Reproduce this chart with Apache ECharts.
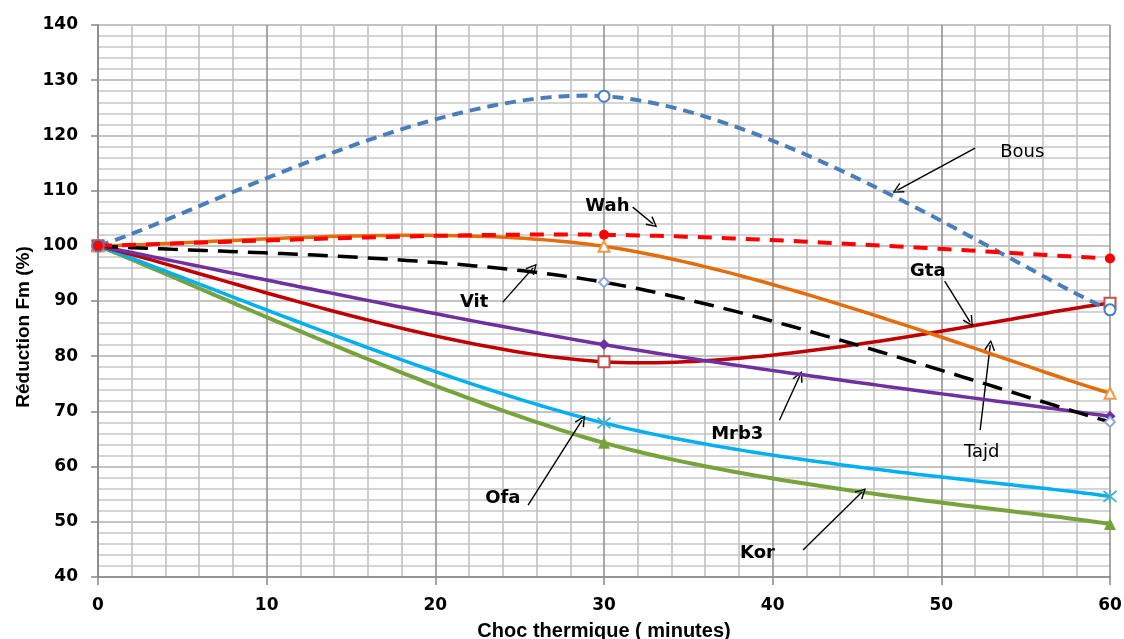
<!DOCTYPE html>
<html>
<head>
<meta charset="utf-8">
<script src="https://cdn.jsdelivr.net/npm/echarts@6/dist/echarts.min.js"></script>
<style>
  html, body { margin: 0; padding: 0; background: #fff; }
  #chart { width: 1124px; height: 639px; }
</style>
</head>
<body>
<div id="chart"></div>
<script>
// Thermal shock duration (minutes) and Fm reduction (%) per material
const minutes = [0, 30, 60];
const bous = [100, 127.1, 88.4];
const wah  = [100, 102.0, 97.7];
const tajd = [100, 99.9, 73.3];
const vit  = [100, 93.4, 68.1];
const mrb3 = [100, 82.1, 69.1];
const gta  = [100, 79.0, 89.6];
const ofa  = [100, 67.9, 54.6];
const kor  = [100, 64.3, 49.6];

// Callout labels: text, label anchor, arrow start, arrow tip (axis units)
const calloutNames = ['Bous', 'Wah', 'Gta', 'Vit', 'Mrb3', 'Tajd', 'Ofa', 'Kor'];
const calloutText  = [[54.8, 117.0], [30.2, 107.2], [49.2, 95.3], [22.3, 89.8], [37.9, 65.9], [52.4, 62.5], [24.0, 54.3], [39.1, 44.3]];
const arrowFrom    = [[52.0, 117.7], [31.7, 107.0], [50.2, 93.6], [24.0, 89.8], [40.4, 68.4], [52.3, 66.6], [25.5, 53.0], [41.8, 44.9]];
const arrowTo      = [[47.4, 110.1], [32.9, 104.0], [51.7, 86.2], [25.8, 96.0], [41.6, 76.4], [52.9, 82.0], [28.7, 68.4], [45.3, 55.4]];
const boldCallout  = [false, true, true, true, true, false, true, true];

const SANS = '"DejaVu Sans", sans-serif';
const TITLE = '"Liberation Sans", Arial, sans-serif';
const pairs = (vals) => minutes.map((m, i) => [m, vals[i]]);

const arrowHead = 'path://M5,0 L10,10 L8.8,10.6 L5,2.6 L1.2,10.6 L0,10 Z';
const asterisk = 'path://M0,0 L10,10 M10,0 L0,10 M5,-1 L5,11';

// Cardinal spline through the pixel points (tension 1/6), sampled for a polyline
function splinePoints(px) {
  const out = [px[0]];
  for (let i = 0; i < px.length - 1; i++) {
    const p0 = px[i - 1] || px[i], p1 = px[i], p2 = px[i + 1], p3 = px[i + 2] || px[i + 1];
    const c1 = [p1[0] + (p2[0] - p0[0]) / 6, p1[1] + (p2[1] - p0[1]) / 6];
    const c2 = [p2[0] - (p3[0] - p1[0]) / 6, p2[1] - (p3[1] - p1[1]) / 6];
    const steps = 60;
    for (let s = 1; s <= steps; s++) {
      const t = s / steps, u = 1 - t;
      const a = u * u * u, b = 3 * u * u * t, c = 3 * u * t * t, d = t * t * t;
      out.push([
        a * p1[0] + b * c1[0] + c * c2[0] + d * p2[0],
        a * p1[1] + b * c1[1] + c * c2[1] + d * p2[1]
      ]);
    }
  }
  return out;
}

function curve(name, vals, o) {
  return {
    name: name,
    type: 'custom',
    coordinateSystem: 'cartesian2d',
    data: pairs(vals),
    silent: true,
    clip: false,
    z: o.z,
    animation: false,
    renderItem: function (params, api) {
      if (params.dataIndex !== 0) return null;
      const px = minutes.map((m, i) => api.coord([m, vals[i]]));
      return {
        type: 'polyline',
        shape: { points: splinePoints(px) },
        style: {
          fill: null,
          stroke: o.line,
          lineWidth: o.width || 3.5,
          lineDash: o.dash || null,
          lineCap: 'butt',
          lineJoin: 'round'
        }
      };
    }
  };
}

function markers(name, vals, o) {
  return {
    name: name + ' points',
    type: 'scatter',
    data: pairs(vals),
    symbol: o.symbol,
    symbolSize: o.size || 10,
    itemStyle: Object.assign({ opacity: 1 }, o.item),
    silent: true,
    z: o.z + 10,
    animation: false
  };
}

const specs = [
  ['Kor',  kor,  { line: '#77a33c', width: 4,   z: 2, symbol: 'triangle', size: 12, item: { color: '#77a33c' } }],
  ['Ofa',  ofa,  { line: '#00b0f0', width: 3.5, z: 3, symbol: asterisk, size: 13, item: { color: 'none', borderColor: '#4bacc6', borderWidth: 1.8 } }],
  ['Gta',  gta,  { line: '#c00000', width: 3.5, z: 4, symbol: 'emptyRect', size: 11, item: { color: '#c0504d', borderWidth: 1.5 } }],
  ['Mrb3', mrb3, { line: '#7030a0', width: 3.5, z: 5, symbol: 'diamond', size: 11, item: { color: '#7030a0' } }],
  ['Tajd', tajd, { line: '#e46c0a', width: 3.5, z: 6, symbol: 'emptyTriangle', size: 11, item: { color: '#f79646', borderWidth: 1.5 } }],
  ['Vit',  vit,  { line: '#000000', width: 3.5, z: 7, dash: [20, 10], symbol: 'emptyDiamond', size: 10, item: { color: '#8eaadb', borderWidth: 1.5 } }],
  ['Bous', bous, { line: '#4a7ebb', width: 4,   z: 8, dash: [11, 7], symbol: 'emptyCircle', size: 11, item: { color: '#4a7ebb', borderWidth: 1.5 } }],
  ['Wah',  wah,  { line: '#ff0000', width: 4,   z: 9, dash: [14, 10], symbol: 'circle', size: 10, item: { color: '#ff0000' } }]
];

const series = [];
specs.forEach(([n, v, o]) => { series.push(curve(n, v, o)); });
specs.forEach(([n, v, o]) => { series.push(markers(n, v, o)); });

series.push({
  name: 'callouts',
  type: 'scatter',
  data: calloutNames.map((n, i) => ({
    value: calloutText[i],
    name: n,
    label: { fontWeight: boldCallout[i] ? 'bold' : 'normal' }
  })),
  symbolSize: 0,
  silent: true,
  z: 30,
  itemStyle: { opacity: 1 },
  label: {
    show: true,
    position: 'inside',
    formatter: '{b}',
    color: '#000',
    opacity: 1,
    fontSize: 18,
    fontFamily: SANS
  },
  markLine: {
    silent: true,
    symbol: ['none', arrowHead],
    symbolSize: [11, 11],
    animation: false,
    label: { show: false },
    lineStyle: { color: '#000', width: 1.4, type: 'solid', opacity: 1 },
    emphasis: { disabled: true },
    data: arrowFrom.map((p, i) => [{ coord: p }, { coord: arrowTo[i] }])
  },
  animation: false
});

const chart = echarts.init(document.getElementById('chart'), null, { renderer: 'canvas' });

chart.setOption({
  backgroundColor: '#ffffff',
  animation: false,
  grid: { left: 98, right: 14, top: 25, bottom: 62, containLabel: false, outerBoundsMode: 'none' },
  xAxis: {
    type: 'value',
    min: 0, max: 60, interval: 10,
    name: 'Choc thermique ( minutes)',
    nameLocation: 'middle',
    nameGap: 44,
    nameTextStyle: { fontFamily: TITLE, fontSize: 20, fontWeight: 'bold', color: '#000' },
    axisLine: { show: true, lineStyle: { color: '#868686', width: 1.5 } },
    axisTick: { show: true, length: 8, lineStyle: { color: '#868686', width: 1.5 } },
    axisLabel: { margin: 20, fontFamily: SANS, fontSize: 17, fontWeight: 'bold', color: '#000' },
    splitLine: { show: true, lineStyle: { color: '#8c8c8c', width: 1.5 } },
    minorTick: { show: false, splitNumber: 5 },
    minorSplitLine: { show: true, lineStyle: { color: '#bfbfbf', width: 1.5 } }
  },
  yAxis: {
    type: 'value',
    min: 40, max: 140, interval: 10,
    axisLine: { show: true, lineStyle: { color: '#868686', width: 1.5 } },
    axisTick: { show: true, length: 7, lineStyle: { color: '#868686', width: 1.5 } },
    axisLabel: { margin: 20, fontFamily: SANS, fontSize: 17, fontWeight: 'bold', color: '#000' },
    splitLine: { show: true, lineStyle: { color: '#b0b0b0', width: 1.5 } },
    minorTick: { show: false, splitNumber: 5 },
    minorSplitLine: { show: true, lineStyle: { color: '#c8c8c8', width: 1.5 } }
  },
  graphic: [{
    type: 'text',
    x: 24, y: 327,
    rotation: Math.PI / 2,
    style: {
      text: 'Réduction Fm (%)',
      fontFamily: TITLE, fontSize: 19, fontWeight: 'bold', fill: '#000',
      align: 'center', verticalAlign: 'middle'
    }
  }],
  series: series
});
</script>
</body>
</html>
